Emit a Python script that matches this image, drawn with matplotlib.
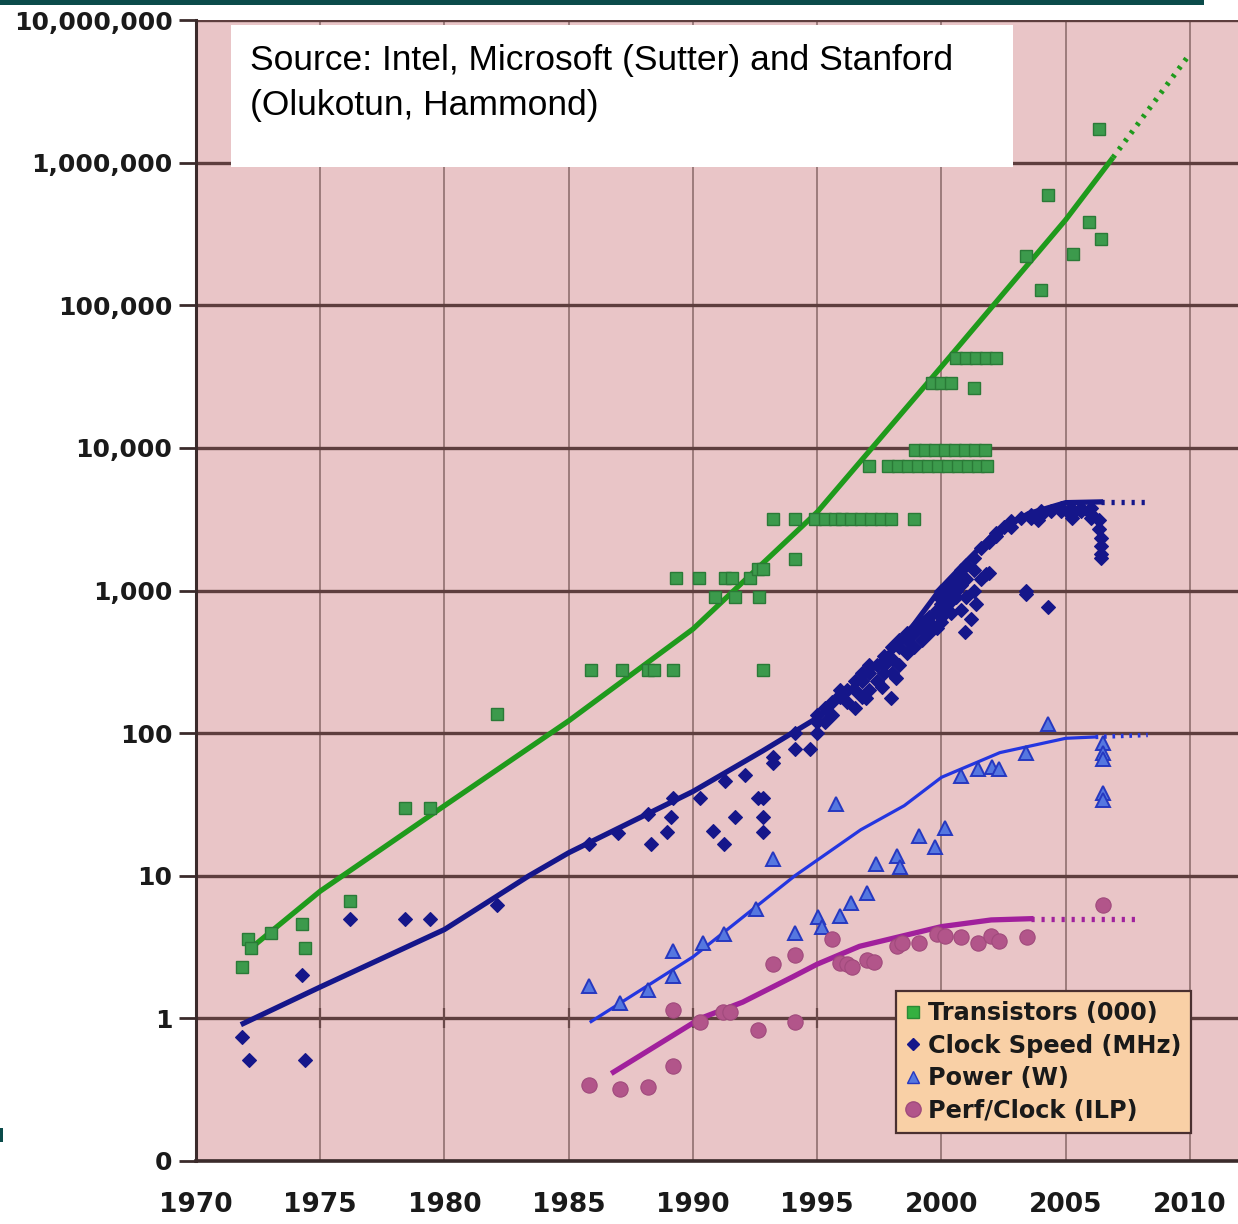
import matplotlib
matplotlib.use("Agg")
import matplotlib.pyplot as plt
from matplotlib.patches import Rectangle
from matplotlib.lines import Line2D

# ---------------- data ----------------
# Transistors (thousands)
trans_year = [1971.85, 1972.1, 1972.2, 1973.0, 1974.25, 1974.4, 1976.2, 1978.4, 1979.4, 1982.1,
              1985.9, 1987.15, 1988.2, 1988.45, 1989.2, 1992.8,
              1989.3, 1990.26, 1991.3, 1991.55, 1992.3, 1992.6, 1992.8,
              1990.9, 1991.7, 1992.65,
              1994.1,
              1993.2, 1994.1, 1994.9, 1995.3, 1995.7, 1996.0, 1996.35, 1996.75, 1997.15, 1997.55,
              1997.95, 1998.9,
              1997.1, 1997.85, 1998.25, 1998.65, 1999.05, 1999.45, 1999.85, 2000.25, 2000.65,
              2001.05, 2001.45, 2001.85,
              1998.95, 1999.35, 1999.75, 2000.15, 2000.55, 2000.95, 2001.35, 2001.75,
              1999.6, 2000.0, 2000.4, 2001.3,
              2000.6, 2001.0, 2001.4, 2001.8, 2002.2,
              2003.4, 2004.0, 2004.3, 2005.3, 2005.95, 2006.35, 2006.4]
trans_val = [2.3, 3.6, 3.1, 4.0, 4.6, 3.1, 6.6, 30, 30, 137,
             275, 275, 275, 275, 275, 275,
             1220, 1220, 1220, 1220, 1220, 1420, 1420,
             898, 898, 898,
             1650,
             3150, 3150, 3150, 3150, 3150, 3150, 3150, 3150, 3150, 3150,
             3150, 3150,
             7500, 7500, 7500, 7500, 7500, 7500, 7500, 7500, 7500,
             7500, 7500, 7500,
             9600, 9600, 9600, 9600, 9600, 9600, 9600, 9600,
             28400, 28400, 28400, 26200,
             42800, 42800, 42800, 42800, 42800,
             222000, 128000, 597000, 229000, 382000, 1720000, 291000]
trans_fit_year = [1972.1, 1975, 1980, 1985, 1990, 1995, 2000, 2005, 2006.9]
trans_fit_val = [3.0, 7.8, 31, 122, 537, 3550, 37150, 398000, 1085000]
trans_proj_year = [2006.9, 2010.0]
trans_proj_val = [1085000, 5800000]

# Clock speed (MHz)
clock_year = [1971.85, 1972.15, 1974.4, 1974.25, 1976.2, 1978.4, 1979.4, 1982.1, 1985.8,
              1987.0, 1988.2, 1988.3, 1988.95, 1989.1, 1989.2, 1990.3, 1990.8, 1991.25, 1991.3,
              1991.7, 1992.1, 1992.6, 1992.8, 1992.8, 1992.8, 1993.2, 1993.2, 1994.1, 1994.7,
              1994.1,
              1995.0, 1995.0, 1995.0, 1995.3, 1995.3, 1995.6, 1995.6, 1995.9, 1995.9, 1995.9,
              1996.2, 1996.2, 1996.5, 1996.5, 1996.5, 1996.8, 1996.8, 1996.8, 1996.95,
              1997.1, 1997.1, 1997.1, 1997.4, 1997.4, 1997.6, 1997.7, 1997.7, 1997.7, 1997.95,
              1998.0, 1998.0, 1998.0, 1998.15, 1998.3, 1998.3, 1998.3, 1998.6, 1998.6, 1998.6,
              1998.9, 1998.9, 1998.9, 1999.2, 1999.2, 1999.2, 1999.5, 1999.5, 1999.5,
              1999.8, 1999.8, 1999.8, 2000.0, 2000.0, 2000.0, 2000.0, 2000.0,
              2000.2, 2000.2, 2000.2, 2000.4, 2000.4, 2000.4, 2000.4, 2000.6, 2000.6, 2000.6,
              2000.8, 2000.8, 2000.8, 2000.95, 2001.0, 2001.0, 2001.0, 2001.2, 2001.3, 2001.3,
              2001.3, 2001.4, 2001.6, 2001.6, 2001.8, 2001.9, 2001.9, 2002.2, 2002.2, 2002.5,
              2002.8, 2002.8, 2003.2, 2003.4, 2003.4, 2003.6, 2003.6, 2003.9, 2004.0, 2004.0,
              2004.3, 2004.4, 2004.8, 2004.8, 2005.2, 2005.2, 2005.25, 2005.6, 2005.6,
              2006.0, 2006.0, 2006.0, 2006.35, 2006.35, 2006.4, 2006.4, 2006.4, 2006.4]
clock_val = [0.74, 0.51, 0.51, 2.0, 5.0, 5.0, 5.0, 6.2, 16.7,
             20, 27, 16.8, 20.4, 25.8, 35, 35, 20.5, 16.7, 46,
             25.8, 51, 35, 35, 25.8, 20.4, 68, 62, 78, 78,
             100,
             120, 133, 100, 150, 120, 166, 133, 180, 200, 185,
             200, 166, 233, 200, 150, 266, 233, 180, 177,
             300, 266, 200, 300, 233, 210, 350, 300, 266, 177,
             400, 333, 266, 245, 450, 400, 300, 500, 450, 366,
             550, 500, 400, 600, 533, 450, 650, 600, 500,
             733, 700, 550, 800, 866, 1000, 650, 600,
             933, 1000, 750, 1000, 1130, 850, 700, 1200, 1000, 900,
             1400, 1100, 733, 515, 1500, 1200, 900, 630, 1700, 1400,
             1000, 805, 2000, 1200, 1310, 2200, 1330, 2530, 2400, 2800,
             3060, 2800, 3200, 1000, 950, 3200, 3400, 3120, 3400, 3600,
             770, 3600, 3800, 3600, 3800, 3400, 3200, 3800, 3600,
             3800, 3460, 3200, 3100, 2700, 2350, 2050, 1800, 1680]
clock_fit_year = [1971.9, 1975, 1980, 1983.4, 1985, 1990, 1992.8, 1995, 1997, 1998.5,
                  2000, 2001, 2002.1, 2003.5, 2005, 2006.4]
clock_fit_val = [0.92, 1.66, 4.2, 10, 14.5, 39, 75, 128, 257, 468,
                 1050, 1600, 2500, 3460, 4130, 4180]
clock_proj_year = [2006.4, 2008.4]
clock_proj_val = [4180, 4180]

# Power (W)
power_year = [1985.8, 1987.05, 1988.2, 1989.2, 1989.2, 1990.4, 1991.25, 1992.55, 1993.2, 1994.1,
              1995.05, 1995.2, 1995.75, 1995.9, 1996.35, 1997.0, 1997.35, 1998.2, 1998.35,
              1999.1, 1999.75, 2000.15, 2000.8, 2001.45, 2002.05, 2002.3, 2003.4, 2004.3,
              2006.5, 2006.5, 2006.5, 2006.5, 2006.5]
power_val = [1.7, 1.28, 1.58, 1.97, 2.95, 3.4, 3.9, 5.8, 13, 4.0,
             5.1, 4.4, 32, 5.2, 6.4, 7.6, 12, 13.7, 11.6,
             19, 16, 21.7, 50, 56, 57.5, 56, 72, 116,
             85, 72, 66, 38, 34]
power_fit_year = [1985.9, 1990, 1994.1, 1996.75, 1998.5, 2000, 2002.35, 2005, 2006.2]
power_fit_val = [0.95, 2.7, 10, 21, 31, 49, 73, 92, 94]
power_proj_year = [2006.2, 2008.3]
power_proj_val = [94, 97]

# Performance per clock (ILP)
ilp_year = [1985.8, 1987.05, 1988.2, 1989.2, 1989.2, 1990.3, 1991.2, 1991.5, 1992.6, 1993.2,
            1994.1, 1994.1, 1995.6, 1995.9, 1996.2, 1996.4, 1997.0, 1997.3, 1998.2, 1998.4,
            1999.1, 1999.8, 2000.15, 2000.8, 2001.45, 2002.0, 2002.3, 2003.45, 2006.5]
ilp_val = [0.34, 0.32, 0.33, 0.46, 1.15, 0.95, 1.1, 1.1, 0.83, 2.4,
           0.95, 2.8, 3.6, 2.45, 2.4, 2.3, 2.55, 2.5, 3.2, 3.4,
           3.35, 3.9, 3.8, 3.7, 3.4, 3.8, 3.5, 3.7, 6.2]
ilp_fit_year = [1986.8, 1990.3, 1992, 1994, 1995, 1996.7, 2000, 2002, 2003.6]
ilp_fit_val = [0.42, 1.0, 1.3, 1.95, 2.4, 3.2, 4.4, 4.9, 5.0]
ilp_proj_year = [2003.6, 2007.8]
ilp_proj_val = [5.0, 5.0]

x_ticks = [1970, 1975, 1980, 1985, 1990, 1995, 2000, 2005, 2010]
y_ticks = [0.1, 1, 10, 100, 1e3, 1e4, 1e5, 1e6, 1e7]
y_tick_labels = ["0", "1", "10", "100", "1,000", "10,000", "100,000", "1,000,000", "10,000,000"]
series_labels = ["Transistors (000)", "Clock Speed (MHz)", "Power (W)", "Perf/Clock (ILP)"]

# ---------------- styling ----------------
W, H = 1238, 1224
fig = plt.figure(figsize=(W / 100, H / 100), dpi=100, facecolor="white")

left_px, right_px, top_px, bottom_px = 196, 1238, 20, 1161
ax = fig.add_axes([left_px / W, (H - bottom_px) / H,
                   (right_px - left_px) / W, (bottom_px - top_px) / H])
ax.set_facecolor("#e9c5c7")
ax.set_yscale("log")
ax.set_xlim(1970, 1970 + (right_px - left_px) / 24.85)
ax.set_ylim(0.1, 1e7)

ax.set_xticks(x_ticks)
ax.set_xticklabels([str(t) for t in x_ticks])
ax.set_yticks(y_ticks)
ax.set_yticklabels(y_tick_labels)
ax.minorticks_off()
ax.yaxis.set_minor_locator(matplotlib.ticker.NullLocator())

ax.tick_params(axis="y", length=12, width=2, color="#3b2b2b", pad=5,
               labelsize=18, labelcolor="#1a1a1a")
ax.tick_params(axis="x", length=0, pad=22, labelsize=19, labelcolor="#1a1a1a")
for lab in ax.get_xticklabels() + ax.get_yticklabels():
    lab.set_fontweight("bold")

ax.set_axisbelow(True)
ax.grid(axis="y", which="major", color="#5e3e3e", lw=2.4)
ax.grid(axis="x", which="major", color="#977676", lw=1.3)
for side in ("top", "right"):
    ax.spines[side].set_visible(False)
ax.spines["left"].set_color("#3b2b2b")
ax.spines["left"].set_linewidth(2.2)
ax.spines["bottom"].set_color("#3b2b2b")
ax.spines["bottom"].set_linewidth(2.6)

# short tick marks where the year ticks cross the unit line
ax.plot(x_ticks[:-1], [1] * (len(x_ticks) - 1), ls="none", marker="|", ms=14,
        mew=1.6, color="#6a4a4a", zorder=1.5)

green, green_edge, green_line = "#3c9a4c", "#2a7a37", "#1f9a1c"
navy = "#15168a"
p_fill, p_edge, p_line = "#5577e0", "#2638c0", "#2436e0"
ilp_fill, ilp_line = "#b2558a", "#a1209c"
dot = (0, (0.6, 1.3))

# trend lines
ax.plot(trans_fit_year, trans_fit_val, color=green_line, lw=3.8, zorder=3, solid_capstyle="butt")
ax.plot(trans_proj_year, trans_proj_val, color=green_line, lw=3.8, ls=dot, zorder=3)
ax.plot(clock_fit_year, clock_fit_val, color=navy, lw=3.8, zorder=3)
ax.plot(clock_proj_year, clock_proj_val, color=navy, lw=3.8, ls=dot, zorder=3)
ax.plot(power_fit_year, power_fit_val, color=p_line, lw=2.3, zorder=3)
ax.plot(power_proj_year, power_proj_val, color=p_line, lw=3.2, ls=dot, zorder=3)
ax.plot(ilp_fit_year, ilp_fit_val, color=ilp_line, lw=3.8, zorder=3)
ax.plot(ilp_proj_year, ilp_proj_val, color=ilp_line, lw=3.8, ls=dot, zorder=3)

# data points
ax.plot(trans_year, trans_val, ls="none", marker="s", ms=9, mfc=green, mec=green_edge,
        mew=1.0, zorder=4)
ax.plot(clock_year, clock_val, ls="none", marker="D", ms=7.5, mfc=navy, mec=navy,
        mew=0.8, zorder=4)
ax.plot(power_year, power_val, ls="none", marker="^", ms=10.5, mfc=p_fill, mec=p_edge,
        mew=1.4, zorder=4)
ax.plot(ilp_year, ilp_val, ls="none", marker="o", ms=11, mfc=ilp_fill, mec="#a04a7c",
        mew=0.8, zorder=4)

leg_handles = [
    Line2D([], [], ls="none", marker="s", ms=8, mfc="#35b040", mec="#2a8a35"),
    Line2D([], [], ls="none", marker="D", ms=6, mfc=navy, mec=navy),
    Line2D([], [], ls="none", marker="^", ms=9, mfc=p_fill, mec=p_edge),
    Line2D([], [], ls="none", marker="o", ms=11, mfc=ilp_fill, mec="#a04a7c"),
]
leg = ax.legend(leg_handles, series_labels, loc="lower left",
                bbox_to_anchor=((896 - left_px) / (right_px - left_px), (bottom_px - 1133) / (bottom_px - top_px)),
                borderaxespad=0, frameon=True, fancybox=False, handlelength=0.6,
                handletextpad=0.3, labelspacing=0.36, borderpad=0.42,
                prop={"weight": "bold", "size": 17.3})
leg.get_frame().set_facecolor("#f9d0a6")
leg.get_frame().set_edgecolor("#4a3030")
leg.get_frame().set_linewidth(1.6)
leg.get_frame().set_alpha(1)
leg.set_zorder(6)
for t in leg.get_texts():
    t.set_color("#1a1a1a")

# attribution box
fig.add_artist(Rectangle((231 / W, 1 - 167 / H), (1013 - 231) / W, (167 - 25) / H,
                         transform=fig.transFigure, facecolor="white", edgecolor="none", zorder=8))
fig.text(250 / W, 1 - 44 / H, "Source: Intel, Microsoft (Sutter) and Stanford\n(Olukotun, Hammond)",
         ha="left", va="top", fontsize=25.5, linespacing=1.45, color="black",
         family=["Liberation Sans", "DejaVu Sans"], zorder=9)

# slide header bar and margin mark
fig.add_artist(Rectangle((0, 1 - 5 / H), 1204 / W, 5 / H, transform=fig.transFigure,
                         facecolor="#0b4b4a", edgecolor="none", zorder=10))
fig.add_artist(Rectangle((0, 1 - 1142 / H), 3 / W, 14 / H, transform=fig.transFigure,
                         facecolor="#0b4b4a", edgecolor="none", zorder=10))

fig.savefig("out.png", dpi=100, facecolor="white")
